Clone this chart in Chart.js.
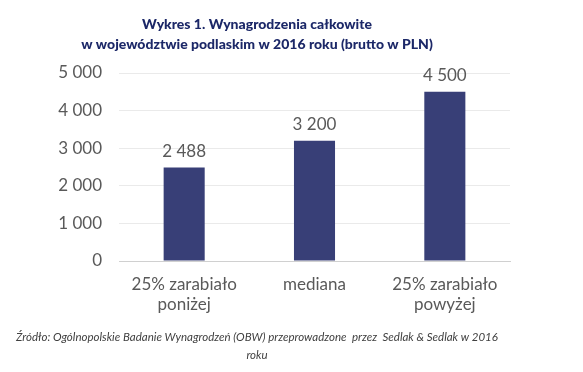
<!DOCTYPE html>
<html>
<head>
<meta charset="utf-8">
<script src="https://cdn.jsdelivr.net/npm/chart.js"></script>
<style>
  html, body { margin: 0; padding: 0; background: #fff; }
  #wrap { width: 583px; height: 372px; position: relative; }
</style>
</head>
<body>
<div id="wrap"><canvas id="chart" width="583" height="372"></canvas></div>
<script>
// chart data
const categories = [["25% zarabiało", "poniżej"], "mediana", ["25% zarabiało", "powyżej"]];
const salaries = [2488, 3200, 4500];
const yTicks = [0, 1000, 2000, 3000, 4000, 5000];
const titleLines = ["Wykres 1. Wynagrodzenia całkowite", "w województwie podlaskim w 2016 roku (brutto w PLN)"];
const sourceLines = ["Źródło: Ogólnopolskie Badanie Wynagrodzeń (OBW) przeprowadzone  przez  Sedlak & Sedlak w 2016", "roku"];

const fmt = v => String(v).replace(/\B(?=(\d{3})+(?!\d))/g, " ");

// title, source note and value labels
const textPlugin = {
  id: "texts",
  afterDraw(chart) {
    const ctx = chart.ctx;
    ctx.save();
    ctx.textAlign = "center";
    ctx.textBaseline = "middle";
    ctx.fillStyle = "#1C2868";
    ctx.font = "900 14px Lato";
    titleLines.forEach((t, i) => ctx.fillText(t, 257, 24 + i * 20));

    ctx.fillStyle = "#404040";
    ctx.font = "italic 11.5px Lato";
    sourceLines.forEach((t, i) => ctx.fillText(t, 257, 337 + i * 18));

    ctx.fillStyle = "#595959";
    ctx.font = "17px Lato";
    const meta = chart.getDatasetMeta(0);
    meta.data.forEach((bar, i) => {
      ctx.fillText(fmt(salaries[i]), bar.x, bar.y - 16);
    });
    ctx.restore();
  }
};

new Chart(document.getElementById("chart"), {
  type: "bar",
  data: {
    labels: categories,
    datasets: [{
      data: salaries,
      backgroundColor: "#383F77",
      barPercentage: 0.315,
      categoryPercentage: 1
    }]
  },
  options: {
    responsive: false,
    animation: false,
    layout: { padding: { left: 0, right: 73, top: 73, bottom: 51 } },
    plugins: { legend: { display: false }, tooltip: { enabled: false } },
    scales: {
      x: {
        grid: { display: false, drawTicks: false },
        border: { color: "#D0D0D0" },
        ticks: { color: "#595959", font: { family: "Lato", size: 17, lineHeight: 1.15 }, padding: 14, maxRotation: 0 },
        afterFit: s => { s.height = 60; }
      },
      y: {
        min: 0, max: 5000,
        afterBuildTicks: s => { s.ticks = yTicks.map(v => ({ value: v })); },
        grid: { color: "#EAEAEA", drawTicks: false },
        border: { display: false },
        ticks: { color: "#595959", font: { family: "Lato", size: 17 }, padding: 17, callback: v => fmt(v) },
        afterFit: s => { s.width = 119; }
      }
    }
  },
  plugins: [textPlugin]
});
</script>
</body>
</html>
